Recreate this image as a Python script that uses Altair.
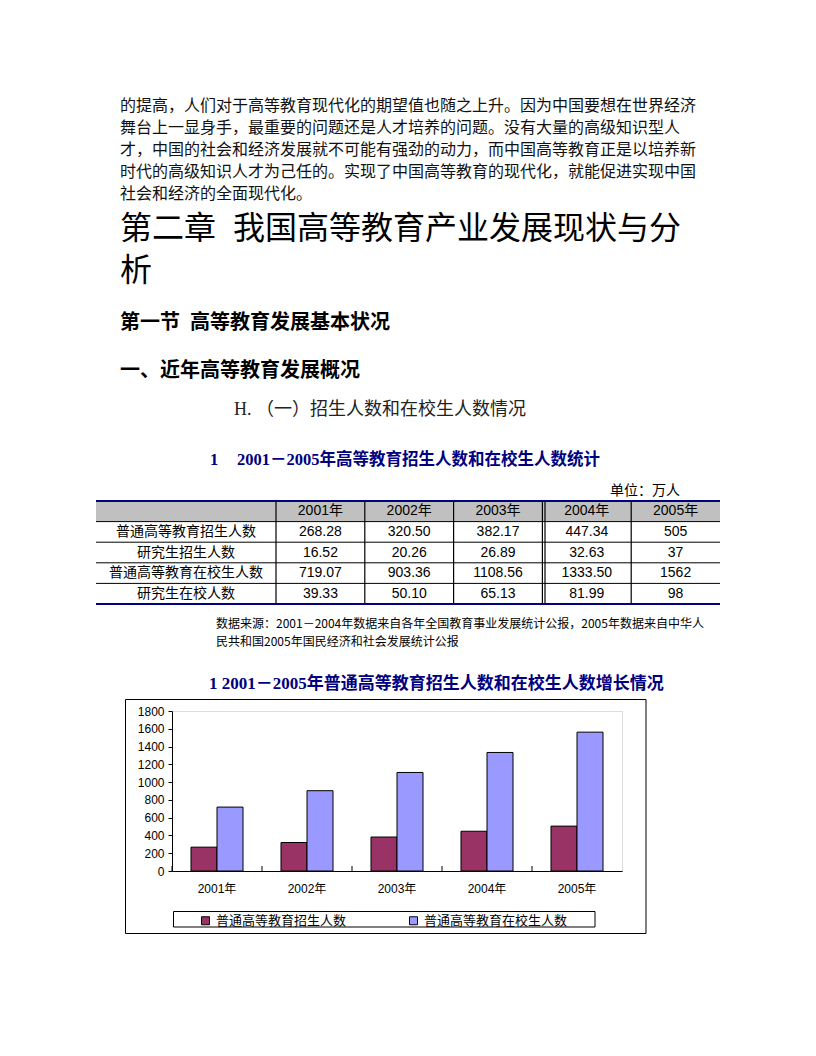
import altair as alt
import pandas as pd

# ---------------- data ----------------
years = ["2001年", "2002年", "2003年", "2004年", "2005年"]
row_labels = ["普通高等教育招生人数", "研究生招生人数", "普通高等教育在校生人数", "研究生在校人数"]
enroll_ug = [268.28, 320.50, 382.17, 447.34, 505]
enroll_pg = [16.52, 20.26, 26.89, 32.63, 37]
students_ug = [719.07, 903.36, 1108.56, 1333.50, 1562]
students_pg = [39.33, 50.10, 65.13, 81.99, 98]
table_values = [enroll_ug, enroll_pg, students_ug, students_pg]

series = ["普通高等教育招生人数", "普通高等教育在校生人数"]
series_values = [enroll_ug, students_ug]
y_ticks = [0, 200, 400, 600, 800, 1000, 1200, 1400, 1600, 1800]

paragraph = [
    "的提高，人们对于高等教育现代化的期望值也随之上升。因为中国要想在世界经济",
    "舞台上一显身手，最重要的问题还是人才培养的问题。没有大量的高级知识型人",
    "才，中国的社会和经济发展就不可能有强劲的动力，而中国高等教育正是以培养新",
    "时代的高级知识人才为己任的。实现了中国高等教育的现代化，就能促进实现中国",
    "社会和经济的全面现代化。",
]
chapter = ["第二章", "我国高等教育产业发展现状与分", "析"]
section = ["第一节", "高等教育发展基本状况"]
subsection = "一、近年高等教育发展概况"
subsub = "H. （一）招生人数和在校生人数情况"
table_title = ["1", "2001－2005年高等教育招生人数和在校生人数统计"]
unit = "单位：万人"
source = [
    "数据来源：2001－2004年数据来自各年全国教育事业发展统计公报，2005年数据来自中华人",
    "民共和国2005年国民经济和社会发展统计公报",
]
chart_title = "1 2001－2005年普通高等教育招生人数和在校生人数增长情况"

# ---------------- styles / layout ----------------
CJK = "Noto Sans CJK SC"
SANS = "Liberation Sans, Noto Sans CJK SC"
SERIF = "Liberation Serif, Noto Sans CJK SC"
NAVY = "#000080"
OX, OY = 172, 711  # page position of plot-area origin


def rx(x):
    return x - OX


def ry(y):
    return y - OY


def fmt(v):
    return str(int(v)) if float(v).is_integer() else f"{v:.2f}"


def txt(s, x, y, size, font=CJK, weight="normal", color="black", align="left"):
    return alt.Chart(pd.DataFrame({"t": [s]})).mark_text(
        align=align, baseline="middle", font=font, fontSize=size,
        fontWeight=weight, color=color
    ).encode(text="t:N", x=alt.value(rx(x)), y=alt.value(ry(y)))


one = pd.DataFrame({"k": [0]})

# ---------------- bar chart ----------------
bar_rows = []
for s, vals in zip(series, series_values):
    for yr, v in zip(years, vals):
        bar_rows.append({"year": yr, "series": s, "value": v})
bar_df = pd.DataFrame(bar_rows)

xscale = alt.Scale(domain=years, paddingInner=0, paddingOuter=0)

bars = alt.Chart(bar_df).mark_bar(stroke="black", strokeWidth=1).encode(
    x=alt.X("year:N", sort=years, scale=xscale,
            axis=alt.Axis(title=None, orient="bottom", labelAngle=0, ticks=False,
                          domainColor="black", labelColor="black", labelFont=SANS,
                          labelFontSize=12, labelPadding=12)),
    xOffset=alt.XOffset("series:N", sort=series,
                        scale=alt.Scale(domain=series, paddingInner=0, paddingOuter=0.73)),
    y=alt.Y("value:Q", scale=alt.Scale(domain=[0, 1800], nice=False),
            axis=alt.Axis(title=None, orient="left", values=y_ticks, format="d", grid=False,
                          tickSize=4, tickColor="black", domainColor="black",
                          labelColor="black", labelFont=SANS, labelFontSize=12,
                          labelPadding=4)),
    color=alt.Color("series:N", sort=series,
                    scale=alt.Scale(domain=series, range=["#993366", "#9999FF"]),
                    legend=alt.Legend(title=None, orient="none", legendX=rx(199),
                                      legendY=ry(914), direction="horizontal",
                                      symbolType="square", symbolSize=64,
                                      symbolStrokeColor="black", symbolStrokeWidth=1,
                                      symbolOpacity=1, labelFont=CJK, labelFontSize=13,
                                      labelColor="black", labelOffset=4,
                                      columnPadding=60, padding=0)),
)

inner_ticks = alt.Chart(pd.DataFrame({"year": years})).mark_rule(
    color="black", strokeWidth=1).encode(
    x=alt.X("year:N", scale=xscale, bandPosition=0, axis=None),
    y=alt.value(ry(866)), y2=alt.value(ry(871)),
)

outer_box = alt.Chart(one).mark_rect(filled=False, stroke="black", strokeWidth=1).encode(
    x=alt.value(rx(125.5)), x2=alt.value(rx(646)),
    y=alt.value(ry(699.5)), y2=alt.value(ry(933.5)),
)
legend_box = alt.Chart(one).mark_rect(filled=False, stroke="black", strokeWidth=1).encode(
    x=alt.value(rx(173.5)), x2=alt.value(rx(595)),
    y=alt.value(ry(911.5)), y2=alt.value(ry(927)),
)

# ---------------- table ----------------
row_keys = ["年份"] + row_labels
row_scale = alt.Scale(domain=row_keys, range=[ry(501), ry(604)], paddingInner=0, paddingOuter=0)
col_scale = alt.Scale(domain=years, range=[rx(276), rx(720)], paddingInner=0, paddingOuter=0)

cells = [{"row": "年份", "year": yr, "t": yr} for yr in years]
for lab, vals in zip(row_labels, table_values):
    for yr, v in zip(years, vals):
        cells.append({"row": lab, "year": yr, "t": fmt(v)})
cells_df = pd.DataFrame(cells)

header_bg = alt.Chart(pd.DataFrame({"row": ["年份"]})).mark_rect(color="#c0c0c0").encode(
    x=alt.value(rx(96)), x2=alt.value(rx(720)),
    y=alt.Y("row:N", scale=row_scale, axis=None),
)
cell_text = alt.Chart(cells_df).mark_text(
    font=SANS, fontSize=14, color="black", align="center", baseline="middle").encode(
    x=alt.X("year:N", scale=col_scale, axis=None, bandPosition=0.5),
    y=alt.Y("row:N", scale=row_scale, axis=None, bandPosition=0.5),
    text="t:N",
)
label_text = alt.Chart(pd.DataFrame({"row": row_labels})).mark_text(
    font=CJK, fontSize=14, color="black", align="center", baseline="middle").encode(
    x=alt.value(rx(186)),
    y=alt.Y("row:N", scale=row_scale, axis=None, bandPosition=0.5),
    text="row:N",
)
h_lines = alt.Chart(pd.DataFrame({"row": row_labels})).mark_rule(
    color="black", strokeWidth=1).encode(
    y=alt.Y("row:N", scale=row_scale, axis=None, bandPosition=0),
    x=alt.value(rx(96)), x2=alt.value(rx(720)),
)
top_line = alt.Chart(pd.DataFrame({"row": [row_keys[0]]})).mark_rule(
    color=NAVY, strokeWidth=2).encode(
    y=alt.Y("row:N", scale=row_scale, axis=None, bandPosition=0),
    x=alt.value(rx(96)), x2=alt.value(rx(720)),
)
bottom_line = alt.Chart(pd.DataFrame({"row": [row_keys[-1]]})).mark_rule(
    color=NAVY, strokeWidth=2).encode(
    y=alt.Y("row:N", scale=row_scale, axis=None, bandPosition=1),
    x=alt.value(rx(96)), x2=alt.value(rx(720)),
)
v_lines = alt.Chart(pd.DataFrame({"year": years})).mark_rule(
    color="black", strokeWidth=1.2).encode(
    x=alt.X("year:N", scale=col_scale, axis=None, bandPosition=0),
    y=alt.value(ry(501)), y2=alt.value(ry(604)),
)
v_double = alt.Chart(pd.DataFrame({"year": [years[3]]})).mark_rule(
    color="black", strokeWidth=1.2, xOffset=2.6).encode(
    x=alt.X("year:N", scale=col_scale, axis=None, bandPosition=0),
    y=alt.value(ry(501)), y2=alt.value(ry(604)),
)

# ---------------- document text ----------------
texts = []
for i, line in enumerate(paragraph):
    texts.append(txt(line, 120, 106 + 22 * i, 16, color="#111"))
texts.append(txt(chapter[0], 120, 229, 32))
texts.append(txt(chapter[1], 233, 229, 32))
texts.append(txt(chapter[2], 120, 271, 32))
texts.append(txt(section[0], 120, 323, 20, weight="bold"))
texts.append(txt(section[1], 190, 323, 20, weight="bold"))
texts.append(txt(subsection, 120, 371, 20, weight="bold"))
texts.append(txt(subsub, 234, 410, 18, font=SERIF, color="#222"))
texts.append(txt(table_title[0], 210, 460, 16.5, font=SERIF, weight="bold", color=NAVY))
texts.append(txt(table_title[1], 237, 460, 16.5, font=SERIF, weight="bold", color=NAVY))
texts.append(txt(unit, 610, 491, 14))
texts.append(txt(source[0], 216, 624, 12))
texts.append(txt(source[1], 216, 642, 12))
texts.append(txt(chart_title, 209, 684, 17, font=SERIF, weight="bold", color=NAVY))

chart = alt.layer(
    bars, inner_ticks, outer_box, legend_box,
    header_bg, h_lines, v_lines, v_double, top_line, bottom_line, cell_text, label_text,
    *texts
).resolve_scale(x="independent", y="independent").properties(
    width=450, height=160,
    autosize=alt.AutoSizeParams(type="none"),
    padding={"left": 164, "top": 703, "right": 186, "bottom": 167},
).configure_view(
    fill="#c0c0c0", stroke="#808080", strokeWidth=1
).configure(background="white")

chart.save("out.html", embed_options={"renderer": "svg", "actions": False})
